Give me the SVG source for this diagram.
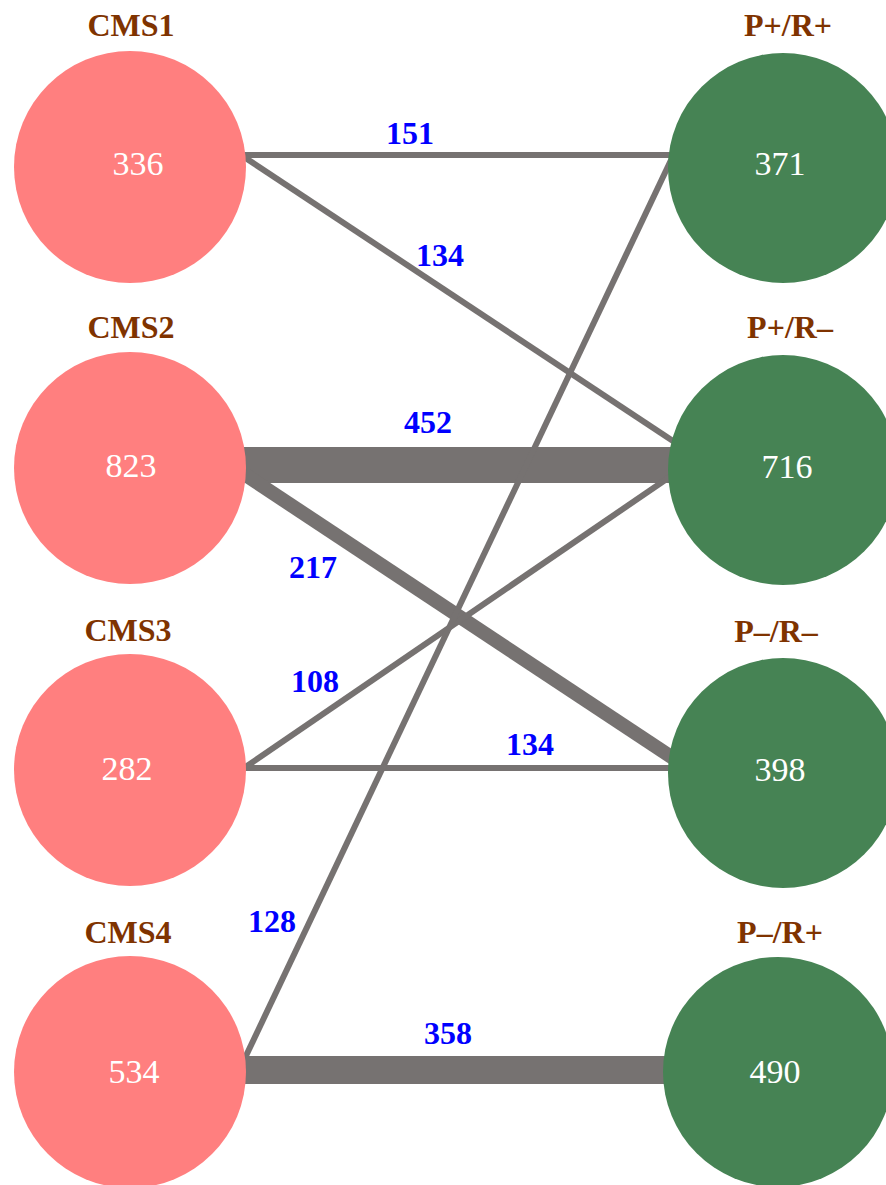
<svg xmlns="http://www.w3.org/2000/svg" width="886" height="1185" viewBox="0 0 886 1185">
<style>
.e{stroke:#767271;fill:none}
.el{font-family:"Liberation Serif",serif;font-weight:bold;font-size:32px;fill:#0000ff;text-anchor:middle}
.nl{font-family:"Liberation Serif",serif;font-weight:bold;font-size:32px;fill:#7f3300;text-anchor:middle}
.nv{font-family:"Liberation Serif",serif;font-size:34px;fill:#ffffff;text-anchor:middle}
.cms{fill:#ff7f7f}
.pr{fill:#468354}
</style>
<rect width="886" height="1185" fill="#ffffff"/>
<g id="edges">
<line class="e" x1="244" y1="155" x2="672" y2="155" stroke-width="6"/>
<line class="e" x1="244" y1="157" x2="676" y2="443" stroke-width="6"/>
<line class="e" x1="244" y1="465" x2="672" y2="465" stroke-width="36"/>
<line class="e" x1="244" y1="474" x2="676" y2="760" stroke-width="14"/>
<line class="e" x1="244" y1="768" x2="674" y2="474" stroke-width="6"/>
<line class="e" x1="244" y1="768" x2="672" y2="768" stroke-width="6"/>
<line class="e" x1="244" y1="1060" x2="672" y2="158" stroke-width="6"/>
<line class="e" x1="244" y1="1070" x2="670" y2="1070" stroke-width="28"/>
<text class="el" x="410" y="144">151</text>
<text class="el" x="440" y="266">134</text>
<text class="el" x="428" y="433">452</text>
<text class="el" x="313" y="578">217</text>
<text class="el" x="315" y="692">108</text>
<text class="el" x="530" y="755">134</text>
<text class="el" x="272" y="932">128</text>
<text class="el" x="448" y="1044">358</text>
</g>
<g id="CMS1"><text class="nl" x="131" y="36">CMS1</text><circle class="cms" cx="130" cy="167" r="116"/><text class="nv" x="138" y="175">336</text></g>
<g id="CMS2"><text class="nl" x="131" y="338">CMS2</text><circle class="cms" cx="130" cy="468" r="116"/><text class="nv" x="131" y="477">823</text></g>
<g id="CMS3"><text class="nl" x="128" y="641">CMS3</text><circle class="cms" cx="130" cy="770" r="116"/><text class="nv" x="127" y="780">282</text></g>
<g id="CMS4"><text class="nl" x="128" y="943">CMS4</text><circle class="cms" cx="130" cy="1072" r="116"/><text class="nv" x="134" y="1083">534</text></g>
<g id="PpRp"><text class="nl" x="788" y="36">P+/R+</text><circle class="pr" cx="783" cy="168" r="115"/><text class="nv" x="780" y="175">371</text></g>
<g id="PpRm"><text class="nl" x="790" y="338">P+/R–</text><circle class="pr" cx="783" cy="470" r="115"/><text class="nv" x="787" y="478">716</text></g>
<g id="PmRm"><text class="nl" x="776" y="642">P–/R–</text><circle class="pr" cx="783" cy="773" r="115"/><text class="nv" x="780" y="781">398</text></g>
<g id="PmRp"><text class="nl" x="780" y="943">P–/R+</text><circle class="pr" cx="778" cy="1072" r="115"/><text class="nv" x="775" y="1083">490</text></g>
</svg>
